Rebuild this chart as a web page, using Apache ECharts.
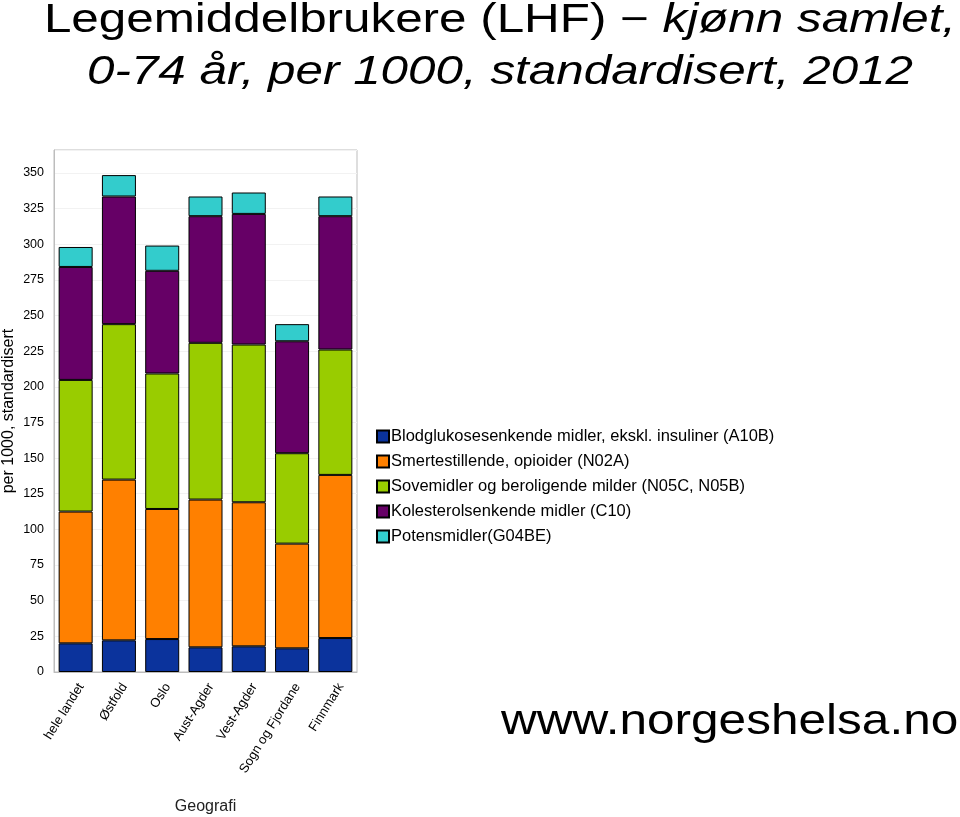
<!DOCTYPE html>
<html>
<head>
<meta charset="utf-8">
<script src="https://cdn.jsdelivr.net/npm/echarts@6/dist/echarts.min.js"></script>
<style>
  html, body { margin: 0; padding: 0; background: #fff; }
  #chart { width: 960px; height: 817px; }
</style>
</head>
<body>
<div id="chart"></div>
<script>
// kategorier (fylker)
const categories = ['hele landet', 'Østfold', 'Oslo', 'Aust-Agder', 'Vest-Agder', 'Sogn og Fjordane', 'Finnmark'];
const seriesNames = [
  'Blodglukosesenkende midler, ekskl. insuliner (A10B)',
  'Smertestillende, opioider (N02A)',
  'Sovemidler og beroligende milder (N05C, N05B)',
  'Kolesterolsenkende midler (C10)',
  'Potensmidler(G04BE)'
];
const blodglukose = [20.1, 22.2, 23.1, 17.3, 18.0, 16.6, 23.8];
const opioider = [92.4, 112.7, 91.2, 103.6, 101.0, 73.4, 114.4];
const sovemidler = [92.3, 109.0, 95.0, 109.9, 110.6, 63.4, 87.9];
const kolesterol = [79.2, 89.5, 72.0, 88.8, 91.6, 78.5, 93.5];
const potens = [14.0, 15.0, 17.7, 13.8, 15.0, 12.0, 13.8];
const colors = ['#0b339c', '#ff8000', '#99cc00', '#660066', '#33cccc'];

const allData = [blodglukose, opioider, sovemidler, kolesterol, potens];

const chart = echarts.init(document.getElementById('chart'));
const option = {
  animation: false,
  textStyle: { fontFamily: 'Liberation Sans, Arial, sans-serif' },
  // tittel og nettadresse er strukket litt i bredden, som i originalen
  graphic: [
    {
      type: 'text',
      x: 500,
      y: -5,
      scaleX: 1.234,
      style: {
        text: '{a|Legemiddelbrukere (LHF) − }{b|kjønn samlet,}\n{b|0-74 år, per 1000, standardisert, 2012}',
        align: 'center',
        verticalAlign: 'top',
        rich: {
          a: { fontSize: 40, fontFamily: 'Liberation Sans', fill: '#000', lineHeight: 52 },
          b: { fontSize: 40, fontFamily: 'Liberation Sans', fontStyle: 'italic', fill: '#000', lineHeight: 52 }
        }
      }
    },
    {
      type: 'text',
      x: 501,
      y: 701,
      scaleX: 1.18,
      style: {
        text: 'www.norgeshelsa.no',
        font: '42px Liberation Sans',
        fill: '#000',
        align: 'left',
        verticalAlign: 'top'
      }
    }
  ],
  legend: {
    orient: 'vertical',
    left: 371,
    top: 423,
    itemWidth: 12,
    itemHeight: 12,
    itemGap: 8,
    icon: 'rect',
    data: seriesNames,
    textStyle: { fontSize: 16.5, color: '#000', padding: [0, 0, 0, -3] }
  },
  grid: {
    left: 54, right: 603, top: 150, bottom: 145,
    outerBoundsMode: 'none',
    show: true, borderColor: '#bdbdbd', borderWidth: 1
  },
  xAxis: {
    type: 'category',
    data: categories,
    name: 'Geografi',
    nameLocation: 'middle',
    nameGap: 127,
    nameTextStyle: { fontSize: 16, color: '#222' },
    axisLine: { lineStyle: { color: '#bdbdbd' } },
    axisTick: { show: false },
    axisLabel: { rotate: 58, fontSize: 13, color: '#000', interval: 0, margin: 9, verticalAlign: 'top' }
  },
  yAxis: {
    type: 'value',
    min: 0,
    max: 366,
    interval: 25,
    name: 'per 1000, standardisert',
    nameLocation: 'middle',
    nameGap: 37,
    nameTextStyle: { fontSize: 16, color: '#000' },
    axisLine: { show: true, lineStyle: { color: '#bdbdbd' } },
    axisTick: { show: false },
    axisLabel: { fontSize: 12.5, color: '#000', margin: 10, showMaxLabel: false },
    splitLine: { lineStyle: { color: '#f2f2f2' } }
  },
  series: seriesNames.map((name, i) => ({
    name: name,
    type: 'bar',
    stack: 'total',
    barWidth: 34,
    data: allData[i],
    itemStyle: { color: colors[i], borderColor: '#000', borderWidth: 1 }
  }))
};
chart.setOption(option);
</script>
</body>
</html>
